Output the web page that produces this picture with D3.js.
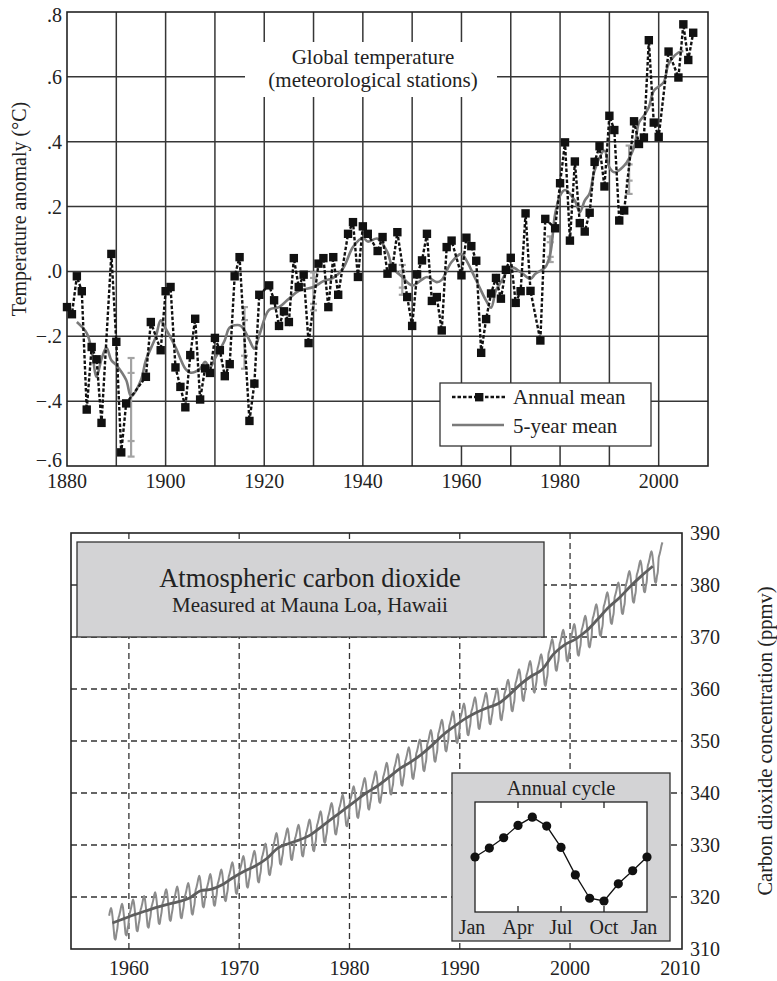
<!DOCTYPE html>
<html lang="en">
<head>
<meta charset="UTF-8">
<title>Global temperature and atmospheric carbon dioxide</title>
<style>
  body { margin: 0; background: #fff; }
  svg { display: block; font-family: "Liberation Serif", "DejaVu Serif", serif; }
</style>
</head>
<body>
<div id="chart"></div>
<script src="https://cdn.jsdelivr.net/npm/d3@7"></script>
<script>
// ---- top panel: global temperature anomaly (deg C) ----
var tempYears = [1880, 1881, 1882, 1883, 1884, 1885, 1886, 1887, 1889, 1890, 1891, 1892,
  1896, 1897, 1899, 1900, 1901, 1902, 1903, 1904, 1905, 1906, 1907, 1908, 1909, 1910,
  1911, 1912, 1913, 1914, 1915, 1917, 1918, 1919, 1921, 1922, 1923, 1924, 1925, 1926,
  1927, 1928, 1929, 1931, 1932, 1933, 1934, 1935, 1937, 1938, 1939, 1940, 1941, 1943,
  1944, 1945, 1946, 1947, 1949, 1950, 1951, 1952, 1953, 1954, 1955, 1956, 1957, 1958,
  1960, 1961, 1962, 1963, 1964, 1965, 1966, 1967, 1968, 1969, 1970, 1971, 1972, 1973,
  1974, 1976, 1977, 1979, 1980, 1981, 1982, 1983, 1984, 1985, 1986, 1987, 1988, 1989,
  1990, 1991, 1992, 1993, 1995, 1996, 1997, 1998, 1999, 2000, 2002, 2004, 2005, 2006, 2007];
var tempAnomaly = [-0.110, -0.132, -0.015, -0.061, -0.426, -0.233, -0.271, -0.467, 0.054, -0.217, -0.558, -0.407,
  -0.325, -0.156, -0.243, -0.061, -0.048, -0.296, -0.356, -0.419, -0.258, -0.146, -0.395, -0.299, -0.313, -0.205,
  -0.243, -0.323, -0.286, -0.015, 0.044, -0.461, -0.346, -0.072, -0.043, -0.089, -0.168, -0.123, -0.156, 0.041,
  -0.048, -0.010, -0.221, 0.024, 0.041, -0.110, 0.044, -0.072, 0.116, 0.152, -0.017, 0.139, 0.116, 0.063,
  0.106, -0.007, 0.011, 0.121, -0.079, -0.168, -0.009, 0.034, 0.116, -0.091, -0.079, -0.182, 0.075, 0.095,
  -0.012, 0.104, 0.078, 0.033, -0.251, -0.147, -0.068, -0.020, -0.084, 0.005, 0.042, -0.097, -0.061, 0.179,
  -0.060, -0.213, 0.162, 0.133, 0.272, 0.398, 0.095, 0.339, 0.149, 0.123, 0.181, 0.338, 0.386, 0.262,
  0.480, 0.436, 0.157, 0.188, 0.463, 0.393, 0.413, 0.713, 0.459, 0.415, 0.678, 0.598, 0.762, 0.652, 0.736];

var smoothYears = [1882, 1884, 1885, 1886, 1887, 1888, 1889, 1890, 1892, 1893, 1895, 1896, 1898, 1899,
  1900, 1902, 1904, 1905, 1907, 1908, 1909, 1910, 1912, 1913, 1915, 1916, 1917, 1918, 1919, 1921,
  1923, 1925, 1927, 1930, 1932, 1934, 1936, 1938, 1940, 1941, 1943, 1945, 1946, 1948, 1950, 1952,
  1953, 1955, 1956, 1958, 1960, 1961, 1963, 1965, 1966, 1967, 1968, 1970, 1972, 1974, 1975, 1977,
  1978, 1979, 1980, 1981, 1983, 1984, 1985, 1986, 1987, 1989, 1990, 1991, 1993, 1995, 1996, 1997,
  1998, 1999, 2001, 2002, 2004, 2005];
var smoothAnomaly = [-0.156, -0.190, -0.243, -0.325, -0.270, -0.235, -0.274, -0.289, -0.335, -0.385, -0.335, -0.274, -0.202, -0.151,
  -0.176, -0.233, -0.300, -0.312, -0.300, -0.279, -0.296, -0.269, -0.212, -0.173, -0.166, -0.182, -0.212, -0.238, -0.197, -0.118,
  -0.110, -0.084, -0.060, -0.048, -0.030, -0.020, 0.010, 0.075, 0.104, 0.092, 0.101, 0.059, 0.013, -0.017, -0.043, -0.025,
  -0.017, -0.033, -0.026, 0.029, 0.054, 0.034, -0.028, -0.090, -0.112, -0.058, -0.033, 0.013, -0.002, -0.023, -0.007, 0.013,
  0.054, 0.177, 0.234, 0.251, 0.218, 0.183, 0.218, 0.241, 0.311, 0.372, 0.321, 0.306, 0.326, 0.383, 0.459, 0.480,
  0.506, 0.557, 0.583, 0.639, 0.675, 0.680];

var errYears = [1893, 1916, 1930, 1948, 1978, 1994];
var errHigh = [-0.267, -0.110, -0.003, 0.020, 0.108, 0.388];
var errLow = [-0.571, -0.300, -0.120, -0.072, 0.029, 0.239];
var errInnerHigh = [-0.313, -0.150, -0.020, 0.000, 0.090, 0.330];
var errInnerLow = [-0.523, -0.260, -0.100, -0.050, 0.045, 0.280];

var tempXTicks = [1880, 1900, 1920, 1940, 1960, 1980, 2000];
var tempXGrid = [1890, 1900, 1910, 1920, 1930, 1940, 1950, 1960, 1970, 1980, 1990, 2000];
var tempYTicks = [-0.6, -0.4, -0.2, 0, 0.2, 0.4, 0.6, 0.8];
var tempYLabels = ['\u2212.6', '\u2212.4', '\u2212.2', '.0', '.2', '.4', '.6', '.8'];

// ---- bottom panel: CO2 at Mauna Loa (ppmv) ----
var co2Years = [1958, 1959, 1960, 1961, 1962, 1963, 1964, 1965, 1966, 1967, 1968, 1969, 1970,
  1971, 1972, 1973, 1974, 1975, 1976, 1977, 1978, 1979, 1980, 1981, 1982, 1983, 1984, 1985,
  1986, 1987, 1988, 1989, 1990, 1991, 1992, 1993, 1994, 1995, 1996, 1997, 1998, 1999, 2000,
  2001, 2002, 2003, 2004, 2005, 2006, 2007, 2008];
var co2Annual = [315.0, 315.8, 316.6, 317.3, 318.0, 318.6, 319.1, 319.8, 321.2, 321.5, 322.4, 323.8, 325.0,
  326.0, 327.4, 329.4, 330.3, 331.0, 332.0, 333.6, 335.2, 336.8, 338.4, 340.0, 341.3, 342.9, 344.6, 345.9,
  347.4, 349.2, 351.2, 352.8, 354.3, 355.5, 356.4, 357.2, 358.9, 360.9, 362.5, 363.8, 366.7, 368.5, 369.6,
  371.2, 373.4, 375.7, 377.6, 379.8, 381.8, 383.6, 385.3];
var co2FirstMonth = 2;   // record starts March 1958
var co2LastMonth = 4;    // and runs to May 2008

var cycleLabels = ['Jan', 'Apr', 'Jul', 'Oct', 'Jan'];
var cycleOffsets = [0, 0.65, 1.4, 2.3, 2.9, 2.25, 0.7, -1.3, -3.0, -3.2, -1.95, -1.0, 0];

var co2XTicks = [1960, 1970, 1980, 1990, 2000, 2010];
var co2YTicks = [310, 320, 330, 340, 350, 360, 370, 380, 390];

var width = 777, height = 981;
var svg = d3.select('#chart').append('svg')
  .attr('width', width)
  .attr('height', height);
svg.append('rect').attr('width', width).attr('height', height).attr('fill', '#fff');

// ================= top panel =================
var tx = d3.scaleLinear().domain([1880, 2010]).range([67, 708]);
var ty = d3.scaleLinear().domain([-0.6, 0.8]).range([466, 12]);
var topG = svg.append('g');

topG.append('g').selectAll('line')
  .data(tempXGrid)
  .enter().append('line')
  .attr('x1', function(d) { return tx(d); })
  .attr('x2', function(d) { return tx(d); })
  .attr('y1', ty.range()[0]).attr('y2', ty.range()[1])
  .attr('stroke', '#363636').attr('stroke-width', 1.5);
topG.append('g').selectAll('line')
  .data(tempYTicks.slice(1, -1))
  .enter().append('line')
  .attr('x1', tx.range()[0]).attr('x2', tx.range()[1])
  .attr('y1', function(d) { return ty(d); })
  .attr('y2', function(d) { return ty(d); })
  .attr('stroke', '#363636').attr('stroke-width', 1.5);
topG.append('rect')
  .attr('x', tx.range()[0]).attr('y', ty.range()[1])
  .attr('width', tx.range()[1] - tx.range()[0])
  .attr('height', ty.range()[0] - ty.range()[1])
  .attr('fill', 'none').attr('stroke', '#222').attr('stroke-width', 1.6);

// tick labels (end labels sit just inside the frame, as in the print)
topG.append('g').selectAll('text')
  .data(tempYTicks)
  .enter().append('text')
  .attr('x', tx.range()[0] - 5)
  .attr('y', function(d, i) {
    var shift = i === 0 ? -6 : (i === tempYTicks.length - 1 ? 3 : 0);
    return ty(d) + shift;
  })
  .attr('dy', '0.35em')
  .attr('text-anchor', 'end')
  .attr('font-size', 20)
  .attr('fill', '#222')
  .text(function(d, i) { return tempYLabels[i]; });
topG.append('g').selectAll('text')
  .data(tempXTicks)
  .enter().append('text')
  .attr('x', function(d) { return tx(d); })
  .attr('y', 488)
  .attr('text-anchor', 'middle')
  .attr('font-size', 20)
  .attr('fill', '#222')
  .text(function(d) { return d; });
topG.append('text')
  .attr('transform', 'translate(19,209) rotate(-90)')
  .attr('text-anchor', 'middle')
  .attr('dominant-baseline', 'central')
  .attr('font-size', 20)
  .attr('fill', '#222')
  .text('Temperature anomaly (\u00b0C)');

// title patch
topG.append('rect')
  .attr('x', 245).attr('y', 42).attr('width', 252).attr('height', 55)
  .attr('fill', '#fff');
topG.append('text')
  .attr('x', 373).attr('y', 64)
  .attr('text-anchor', 'middle').attr('font-size', 21).attr('fill', '#222')
  .text('Global temperature');
topG.append('text')
  .attr('x', 373).attr('y', 87)
  .attr('text-anchor', 'middle').attr('font-size', 21).attr('fill', '#222')
  .text('(meteorological stations)');

// error bars
var errG = topG.append('g').attr('stroke', '#a3a3a3').attr('stroke-width', 2.2);
errYears.forEach(function(yr, i) {
  var x = tx(yr);
  errG.append('line').attr('x1', x).attr('x2', x).attr('y1', ty(errHigh[i])).attr('y2', ty(errLow[i]));
  [errHigh[i], errLow[i], errInnerHigh[i], errInnerLow[i]].forEach(function(v) {
    errG.append('line').attr('x1', x - 3.5).attr('x2', x + 3.5).attr('y1', ty(v)).attr('y2', ty(v));
  });
});

// 5-year mean
var smoothLine = d3.line()
  .x(function(d) { return tx(d[0]); })
  .y(function(d) { return ty(d[1]); })
  .curve(d3.curveCatmullRom.alpha(0.5));
topG.append('path')
  .datum(d3.zip(smoothYears, smoothAnomaly))
  .attr('d', smoothLine)
  .attr('fill', 'none')
  .attr('stroke', '#7a7a7a')
  .attr('stroke-width', 2.6);

// annual mean
var annualLine = d3.line()
  .x(function(d) { return tx(d[0]); })
  .y(function(d) { return ty(d[1]); });
var annual = d3.zip(tempYears, tempAnomaly);
topG.append('path')
  .datum(annual)
  .attr('d', annualLine)
  .attr('fill', 'none')
  .attr('stroke', '#111')
  .attr('stroke-width', 2.4)
  .attr('stroke-dasharray', '3.5,2');
topG.append('g').selectAll('rect')
  .data(annual)
  .enter().append('rect')
  .attr('x', function(d) { return tx(d[0]) - 4.2; })
  .attr('y', function(d) { return ty(d[1]) - 4.2; })
  .attr('width', 8.4).attr('height', 8.4)
  .attr('fill', '#111');

// legend
var leg = topG.append('g');
leg.append('rect')
  .attr('x', 440).attr('y', 383).attr('width', 211).attr('height', 63)
  .attr('fill', '#fff').attr('stroke', '#333').attr('stroke-width', 1.3);
leg.append('line')
  .attr('x1', 452).attr('x2', 507).attr('y1', 397).attr('y2', 397)
  .attr('stroke', '#111').attr('stroke-width', 2.4).attr('stroke-dasharray', '3.5,2');
leg.append('rect')
  .attr('x', 475).attr('y', 393).attr('width', 8.4).attr('height', 8.4).attr('fill', '#111');
leg.append('line')
  .attr('x1', 452).attr('x2', 504).attr('y1', 425).attr('y2', 425)
  .attr('stroke', '#7a7a7a').attr('stroke-width', 2.6);
leg.append('text').attr('x', 513).attr('y', 404).attr('font-size', 21).attr('fill', '#222').text('Annual mean');
leg.append('text').attr('x', 513).attr('y', 433).attr('font-size', 21).attr('fill', '#222').text('5-year mean');

// ================= bottom panel =================
var cx = d3.scaleLinear().domain([1954.75, 2010.15]).range([71, 682]);
var cy = d3.scaleLinear().domain([310, 390]).range([949, 533]);
var botG = svg.append('g');

botG.append('g').selectAll('line')
  .data(co2XTicks.slice(0, -1))
  .enter().append('line')
  .attr('x1', function(d) { return cx(d); })
  .attr('x2', function(d) { return cx(d); })
  .attr('y1', cy.range()[0]).attr('y2', cy.range()[1])
  .attr('stroke', '#333').attr('stroke-width', 1.3).attr('stroke-dasharray', '6,4');
botG.append('g').selectAll('line')
  .data(co2YTicks.slice(1, -1))
  .enter().append('line')
  .attr('x1', cx.range()[0]).attr('x2', cx.range()[1])
  .attr('y1', function(d) { return cy(d); })
  .attr('y2', function(d) { return cy(d); })
  .attr('stroke', '#333').attr('stroke-width', 1.3).attr('stroke-dasharray', '6,4');
botG.append('rect')
  .attr('x', cx.range()[0]).attr('y', cy.range()[1])
  .attr('width', cx.range()[1] - cx.range()[0])
  .attr('height', cy.range()[0] - cy.range()[1])
  .attr('fill', 'none').attr('stroke', '#222').attr('stroke-width', 1.6);

botG.append('g').selectAll('text')
  .data(co2YTicks)
  .enter().append('text')
  .attr('x', cx.range()[1] + 8)
  .attr('y', function(d) { return cy(d); })
  .attr('dy', '0.35em')
  .attr('font-size', 20)
  .attr('fill', '#222')
  .text(function(d) { return d; });
botG.append('g').selectAll('text')
  .data(co2XTicks)
  .enter().append('text')
  .attr('x', function(d) { return cx(d); })
  .attr('y', 975)
  .attr('text-anchor', 'middle')
  .attr('font-size', 20)
  .attr('fill', '#222')
  .text(function(d) { return d; });
botG.append('text')
  .attr('transform', 'translate(765,741) rotate(-90)')
  .attr('text-anchor', 'middle')
  .attr('dominant-baseline', 'central')
  .attr('font-size', 20.5)
  .attr('fill', '#222')
  .text('Carbon dioxide concentration (ppmv)');

// title box
botG.append('rect')
  .attr('x', 77).attr('y', 542).attr('width', 467).attr('height', 95)
  .attr('fill', '#d3d3d5').attr('stroke', '#333').attr('stroke-width', 1.3);
botG.append('text')
  .attr('x', 310).attr('y', 587)
  .attr('text-anchor', 'middle').attr('font-size', 26.5).attr('fill', '#222')
  .text('Atmospheric carbon dioxide');
botG.append('text')
  .attr('x', 310).attr('y', 612)
  .attr('text-anchor', 'middle').attr('font-size', 21).attr('fill', '#222')
  .text('Measured at Mauna Loa, Hawaii');

// monthly record = annual level + seasonal offset
var co2Monthly = [];
co2Years.forEach(function(yr, i) {
  cycleOffsets.slice(0, 12).forEach(function(off, m) {
    if (i === 0 && m < co2FirstMonth) return;
    if (i === co2Years.length - 1 && m > co2LastMonth) return;
    co2Monthly.push([yr + (m + 0.5) / 12, co2Annual[i] + off]);
  });
});
var co2Line = d3.line()
  .x(function(d) { return cx(d[0]); })
  .y(function(d) { return cy(d[1]); })
  .curve(d3.curveMonotoneX);
botG.append('path')
  .datum(co2Monthly)
  .attr('d', co2Line)
  .attr('fill', 'none')
  .attr('stroke', '#8c8c8c')
  .attr('stroke-width', 2);
botG.append('path')
  .datum(d3.zip(co2Years.slice(0, -1).map(function(y) { return y + 0.5; }), co2Annual.slice(0, -1)))
  .attr('d', co2Line)
  .attr('fill', 'none')
  .attr('stroke', '#5e5e5e')
  .attr('stroke-width', 2.8);

// inset: annual cycle
var ix = d3.scaleLinear().domain([0, 12]).range([475, 647]);
var iy = d3.scaleLinear().domain([-4, 4]).range([912, 802]);
var inset = botG.append('g');
inset.append('rect')
  .attr('x', 452).attr('y', 773).attr('width', 218).attr('height', 168)
  .attr('fill', '#d3d3d5').attr('stroke', '#333').attr('stroke-width', 1.3);
inset.append('rect')
  .attr('x', ix.range()[0]).attr('y', iy.range()[1])
  .attr('width', ix.range()[1] - ix.range()[0])
  .attr('height', iy.range()[0] - iy.range()[1])
  .attr('fill', '#fff').attr('stroke', '#222').attr('stroke-width', 1.3);
var cycleTicks = [0, 3, 6, 9, 12];
inset.append('g').selectAll('line')
  .data(cycleTicks.slice(1, -1))
  .enter().append('line')
  .attr('x1', function(d) { return ix(d); })
  .attr('x2', function(d) { return ix(d); })
  .attr('y1', iy.range()[0]).attr('y2', iy.range()[0] - 6)
  .attr('stroke', '#222').attr('stroke-width', 1.3);
inset.append('g').selectAll('line')
  .data(cycleTicks.slice(1, -1))
  .enter().append('line')
  .attr('x1', function(d) { return ix(d); })
  .attr('x2', function(d) { return ix(d); })
  .attr('y1', iy.range()[1]).attr('y2', iy.range()[1] + 6)
  .attr('stroke', '#222').attr('stroke-width', 1.3);
inset.append('g').selectAll('text')
  .data(cycleTicks)
  .enter().append('text')
  .attr('x', function(d) { return ix(d) + (d === 0 ? -3 : d === 12 ? -3 : 0); })
  .attr('y', 934)
  .attr('text-anchor', 'middle')
  .attr('font-size', 20)
  .attr('fill', '#222')
  .text(function(d, i) { return cycleLabels[i]; });
inset.append('text')
  .attr('x', 561).attr('y', 795)
  .attr('text-anchor', 'middle').attr('font-size', 20.5).attr('fill', '#222')
  .text('Annual cycle');
var cyclePts = cycleOffsets.map(function(v, i) { return [i, v]; });
inset.append('path')
  .datum(cyclePts)
  .attr('d', d3.line()
    .x(function(d) { return ix(d[0]); })
    .y(function(d) { return iy(d[1]); }))
  .attr('fill', 'none').attr('stroke', '#111').attr('stroke-width', 1.3);
inset.append('g').selectAll('circle')
  .data(cyclePts)
  .enter().append('circle')
  .attr('cx', function(d) { return ix(d[0]); })
  .attr('cy', function(d) { return iy(d[1]); })
  .attr('r', 4.6)
  .attr('fill', '#111');
</script>
</body>
</html>
